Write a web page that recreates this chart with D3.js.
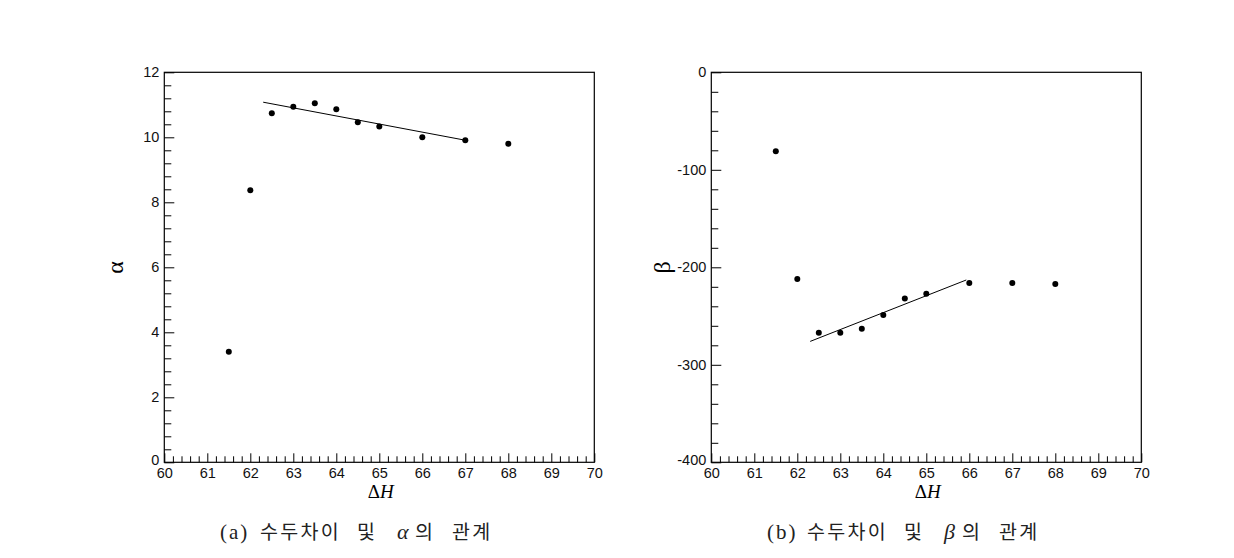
<!DOCTYPE html>
<html>
<head>
<meta charset="utf-8">
<script src="https://cdn.jsdelivr.net/npm/d3@7"></script>
<style>
  html, body { margin: 0; padding: 0; background: #fff; }
  svg { display: block; }
</style>
</head>
<body>
<svg id="chart" width="1234" height="558"></svg>
<script>
// ---- data ----
const deltaH = [61.5, 62, 62.5, 63, 63.5, 64, 64.5, 65, 66, 67, 68];
const alphaVals = [3.40, 8.37, 10.74, 10.94, 11.05, 10.86, 10.46, 10.33, 10.00, 9.91, 9.80];
const betaVals = [-81, -212, -267, -267, -263, -249, -232, -227, -216, -216, -217];
const alphaFitX = [62.3, 67.0];
const alphaFitY = [11.08, 9.91];
const betaFitX = [62.3, 65.93];
const betaFitY = [-276, -213];
const xTicks = [60, 61, 62, 63, 64, 65, 66, 67, 68, 69, 70];
const alphaTicks = [0, 2, 4, 6, 8, 10, 12];
const betaTicks = [-400, -300, -200, -100, 0];
const captionA = ["(a)", "수두차이", "및", "α", "의", "관계"];
const captionB = ["(b)", "수두차이", "및", "β", "의", "관계"];

const svg = d3.select("#chart");
const tickFont = "'Liberation Sans', Arial, sans-serif";

function panel(opts) {
  const g = svg.append("g");
  const x = d3.scaleLinear().domain([60, 70]).range([opts.left, opts.left + 430]);
  const y = d3.scaleLinear().domain(opts.yDomain).range([462.3, 72.3]);

  const xMinor = d3.range(60, 70.001, 0.2).filter(v => Math.abs(v - Math.round(v)) > 1e-6);
  const yMinor = d3.range(opts.yDomain[0], opts.yDomain[1] + 1e-6, opts.yMinorStep)
    .filter(v => !opts.yTicks.some(t => Math.abs(t - v) < 1e-6));

  g.append("g").attr("transform", `translate(0,${y.range()[0]})`)
    .call(d3.axisBottom(x).tickValues(xMinor).tickSize(-6).tickFormat(""))
    .call(s => s.select(".domain").remove());
  g.append("g").attr("transform", `translate(${x.range()[0]},0)`)
    .call(d3.axisLeft(y).tickValues(yMinor).tickSize(-7).tickFormat(""))
    .call(s => s.select(".domain").remove());

  const xa = g.append("g").attr("transform", `translate(0,${y.range()[0]})`)
    .call(d3.axisBottom(x).tickValues(xTicks).tickSize(-9).tickPadding(5).tickFormat(d => String(d)));
  xa.select(".domain").remove();
  const ya = g.append("g").attr("transform", `translate(${x.range()[0]},0)`)
    .call(d3.axisLeft(y).tickValues(opts.yTicks).tickSize(-10).tickPadding(5).tickFormat(d => String(d)));
  ya.select(".domain").remove();
  g.selectAll(".tick text").attr("font-family", tickFont).attr("font-size", 14.5).attr("fill", "#111");
  ya.selectAll(".tick text").filter(d => d === opts.yDomain[0]).attr("dy", "0.18em");
  g.selectAll(".tick line").attr("stroke", "#000");

  g.append("rect")
    .attr("x", x.range()[0]).attr("y", y.range()[1])
    .attr("width", x.range()[1] - x.range()[0]).attr("height", y.range()[0] - y.range()[1])
    .attr("fill", "none").attr("stroke", "#000").attr("stroke-width", 1.2);

  const fit = opts.fitX.map((v, i) => [v, opts.fitY[i]]);
  g.append("path")
    .attr("d", d3.line().x(d => x(d[0])).y(d => y(d[1]))(fit))
    .attr("fill", "none").attr("stroke", "#000").attr("stroke-width", 1);

  g.selectAll("circle.pt").data(deltaH.map((v, i) => [v, opts.vals[i]]))
    .enter().append("circle").attr("class", "pt")
    .attr("cx", d => x(d[0])).attr("cy", d => y(d[1])).attr("r", 3).attr("fill", "#000");

  g.append("text")
    .attr("transform", `translate(${opts.yLabelX},267.5) rotate(-90)`)
    .attr("text-anchor", "middle")
    .attr("font-family", "'Liberation Serif', 'Times New Roman', serif")
    .attr("font-size", 24)
    .text(opts.yLabel);

  const cx = (x.range()[0] + x.range()[1]) / 2 + 1.5;
  const xl = g.append("text").attr("x", cx).attr("y", 498).attr("text-anchor", "middle")
    .attr("font-family", "'Liberation Serif', 'Times New Roman', serif").attr("font-size", 19);
  xl.append("tspan").text("Δ");
  xl.append("tspan").attr("font-style", "italic").text("H");

  // caption
  const offs = [0, 40, 137, 177, 195, 232];
  const cap = g.append("text").attr("y", 539)
    .attr("font-family", "'Liberation Serif', 'Noto Sans CJK KR', serif")
    .attr("fill", "#222");
  opts.caption.forEach((t, i) => {
    const ts = cap.append("tspan").attr("x", opts.capX + offs[i]).text(t);
    if (i === 0) ts.attr("font-size", 21).attr("letter-spacing", 2);
    else if (i === 3) ts.attr("font-style", "italic").attr("font-size", 22);
    else ts.attr("font-size", 19.5).attr("letter-spacing", 2.3)
      .attr("font-family", "'Noto Sans CJK KR', sans-serif");
  });
}

panel({
  left: 164.3, yDomain: [0, 12], yTicks: alphaTicks, yMinorStep: 0.4,
  vals: alphaVals, fitX: alphaFitX, fitY: alphaFitY,
  yLabel: "α", yLabelX: 123, caption: captionA, capX: 220
});
panel({
  left: 711.3, yDomain: [-400, 0], yTicks: betaTicks, yMinorStep: 20,
  vals: betaVals, fitX: betaFitX, fitY: betaFitY,
  yLabel: "β", yLabelX: 670, caption: captionB, capX: 767
});
</script>
</body>
</html>
